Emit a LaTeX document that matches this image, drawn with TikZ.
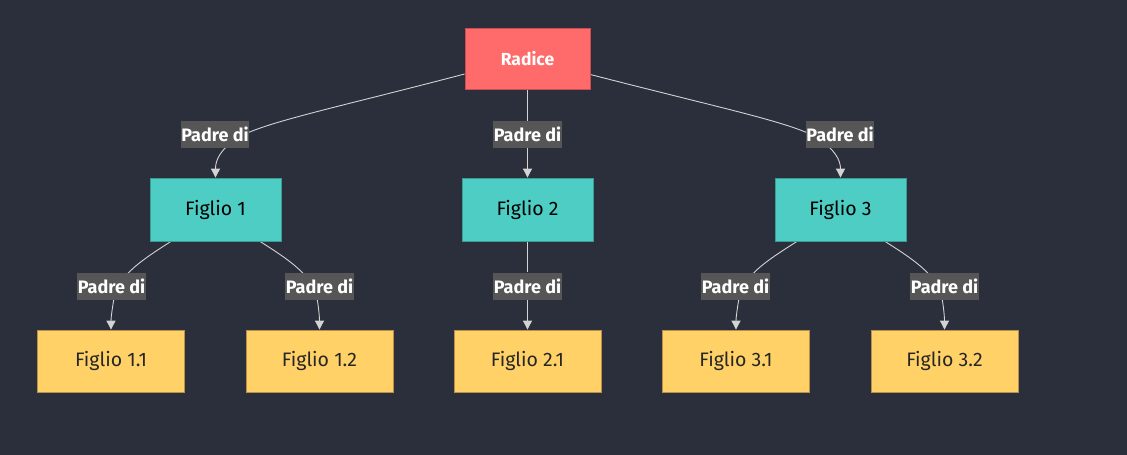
\documentclass[tikz,border=0pt]{standalone}
\usepackage{fontspec}
\setmainfont{Fira Sans}
\usetikzlibrary{arrows.meta,calc}
\pgfdeclarelayer{bg}
\pgfdeclarelayer{edges}
\pgfsetlayers{bg,edges,main}
\definecolor{bgcol}{HTML}{2B2F3B}
\definecolor{rootfill}{HTML}{FF6B6B}
\definecolor{rootdraw}{HTML}{C94F4F}
\definecolor{midfill}{HTML}{4ECDC4}
\definecolor{middraw}{HTML}{3A9C95}
\definecolor{leaffill}{HTML}{FFD166}
\definecolor{leafdraw}{HTML}{B8924A}
\definecolor{edgecol}{HTML}{D3D3D3}
\definecolor{lblfill}{HTML}{565656}
\tikzset{
  base/.style={draw, line width=0.8pt, font=\fontsize{19.5}{22}\selectfont, inner sep=0pt},
  rootbox/.style={base, fill=rootfill, draw=rootdraw, text=white, font=\fontsize{17.5}{21}\selectfont\bfseries, minimum width=125pt, minimum height=61pt},
  midbox/.style={base, fill=midfill, draw=middraw, text=black, minimum width=131pt, minimum height=63pt},
  leafbox/.style={base, fill=leaffill, draw=leafdraw, text=black!85, minimum width=147pt, minimum height=62pt},
  lbl/.style={fill=lblfill, text=white, font=\fontsize{18}{20}\selectfont\bfseries, minimum width=68pt, minimum height=27pt, inner sep=0.5pt},
  edge/.style={draw=edgecol, line width=0.9pt, -{Triangle[length=9pt,width=9pt]}},
}
\begin{document}
\begin{tikzpicture}[x=1pt,y=-1pt]
\begin{pgfonlayer}{bg}
\fill[bgcol] (0,0) rectangle (1127,455);
\end{pgfonlayer}
\useasboundingbox (0,0) rectangle (1127,455);

\node[rootbox] (r) at (527.5,58.5) {Radice};
\node[midbox] (f1) at (215.5,209.5) {Figlio 1};
\node[midbox] (f2) at (527.5,209.5) {Figlio 2};
\node[midbox] (f3) at (840.5,209.5) {Figlio 3};
\node[leafbox] (f11) at (111,361) {Figlio 1.1};
\node[leafbox] (f12) at (319.5,361) {Figlio 1.2};
\node[leafbox] (f21) at (527.5,361) {Figlio 2.1};
\node[leafbox] (f31) at (736,361) {Figlio 3.1};
\node[leafbox] (f32) at (944.5,361) {Figlio 3.2};

\node[lbl] (l1) at (215,134.5) {Padre di};
\node[lbl] (l2) at (527.5,134.5) {Padre di};
\node[lbl] (l3) at (840,134.5) {Padre di};
\node[lbl] (l11) at (111.5,286) {Padre di};
\node[lbl] (l12) at (319.5,286) {Padre di};
\node[lbl] (l21) at (527.5,286) {Padre di};
\node[lbl] (l31) at (735.5,286) {Padre di};
\node[lbl] (l32) at (944.5,286) {Padre di};

\begin{pgfonlayer}{edges}
\draw[edge] ($(r.west)+(0,15.5)$) .. controls (335,108) and (265,122) .. (237,138)
  .. controls (220,150) and (215.5,160) .. (f1.north);
\draw[edge] (r.south) -- (l2) -- (f2.north);
\draw[edge] ($(r.east)+(0,16)$) .. controls (720,108) and (790,122) .. (818,138)
  .. controls (835,150) and (840.5,160) .. (f3.north);

\draw[edge] ($(f1.south)+(-44.5,0)$) .. controls (145,258) and (118,275) .. (114,298)
  .. controls (112,310) and (111,318) .. (f11.north);
\draw[edge] ($(f1.south)+(44.5,0)$) .. controls (286,258) and (313,275) .. (317,298)
  .. controls (319,310) and (319.5,318) .. (f12.north);
\draw[edge] (f2.south) -- (l21) -- (f21.north);
\draw[edge] ($(f3.south)+(-43.5,0)$) .. controls (771,258) and (743,275) .. (739,298)
  .. controls (737,310) and (736,318) .. (f31.north);
\draw[edge] ($(f3.south)+(44.5,0)$) .. controls (911,258) and (938,275) .. (942,298)
  .. controls (944,310) and (944.5,318) .. (f32.north);
\end{pgfonlayer}
\end{tikzpicture}
\end{document}
